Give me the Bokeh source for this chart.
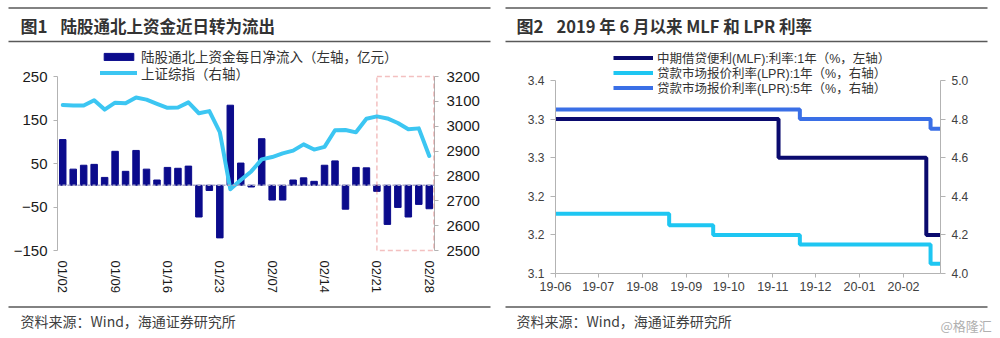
import pandas as pd
from bokeh.plotting import figure
from bokeh.layouts import column, row
from bokeh.models import (Range1d, LinearAxis, FixedTicker, NumeralTickFormatter,
                          Legend, LegendItem, Span, BoxAnnotation,
                          DatetimeTickFormatter, MonthsTicker)
from bokeh.core.properties import value
from bokeh.embed import file_html
from bokeh.resources import INLINE

# ---------------- data: chart 1 ----------------
trade_dates = ["01/02", "01/03", "01/06", "01/07", "01/08", "01/09", "01/10", "01/13",
               "01/14", "01/15", "01/16", "01/17", "01/20", "01/21", "01/22", "01/23",
               "02/03", "02/04", "02/05", "02/06", "02/07", "02/10", "02/11", "02/12",
               "02/13", "02/14", "02/17", "02/18", "02/19", "02/20", "02/21", "02/24",
               "02/25", "02/26", "02/27", "02/28"]
northbound_flow = [105, 37, 46, 48, 18, 78, 32, 80, 37, 12, 41, 39, 44, -73, -12, -121,
                   184, 51, -4, 107, -34, -34, 12, 17, 9, 46, 56, -55, 41, 40, -14, -90,
                   -51, -73, -44, -54]
sse_composite = [3085.20, 3083.79, 3083.41, 3104.80, 3066.89, 3094.88, 3092.29, 3115.57,
                 3106.82, 3090.04, 3074.08, 3075.50, 3095.79, 3052.14, 3060.75, 2976.53,
                 2746.61, 2783.29, 2818.09, 2866.51, 2875.96, 2890.49, 2901.67, 2926.90,
                 2906.07, 2917.01, 2983.62, 2984.97, 2975.40, 3030.15, 3039.67, 3031.23,
                 3013.05, 2987.93, 2991.33, 2880.30]
flow_ticks = [-150, -50, 50, 150, 250]
sse_ticks = [2500, 2600, 2700, 2800, 2900, 3000, 3100, 3200]
highlight_from = "02/21"
chart1_fig = "图1"
chart1_title = "陆股通北上资金近日转为流出"
flow_label = "陆股通北上资金每日净流入（左轴，亿元）"
sse_label = "上证综指（右轴）"

# ---------------- data: chart 2 ----------------
chart2_fig = "图2"
chart2_title = "2019 年 6 月以来 MLF 和 LPR 利率"
mlf_dates = ["2019-06-01", "2019-11-05", "2020-02-17", "2020-02-27"]
mlf_rate = [3.30, 3.25, 3.15, 3.15]
lpr1_dates = ["2019-06-01", "2019-08-20", "2019-09-20", "2019-11-20", "2020-02-20", "2020-02-27"]
lpr1_rate = [4.31, 4.25, 4.20, 4.15, 4.05, 4.05]
lpr5_dates = ["2019-06-01", "2019-11-20", "2020-02-20", "2020-02-27"]
lpr5_rate = [4.85, 4.80, 4.75, 4.75]
mlf_ticks = [3.10, 3.15, 3.20, 3.25, 3.30, 3.35]
mlf_tick_labels = ["3.1", "3.2", "3.2", "3.3", "3.3", "3.4"]
lpr_ticks = [4.0, 4.2, 4.4, 4.6, 4.8, 5.0]
mlf_label = "中期借贷便利(MLF):利率:1年（%，左轴）"
lpr1_label = "贷款市场报价利率(LPR):1年（%，右轴）"
lpr5_label = "贷款市场报价利率(LPR):5年（%，右轴）"

source_text = "资料来源：Wind，海通证券研究所"
watermark = "@格隆汇"

# ---------------- styling ----------------
LAT = "Liberation Sans"
CJK = "Noto Sans CJK SC"
MIX = "Liberation Sans, Noto Sans CJK SC"
RULE = "#595959"
AXIS = "#b3b3b3"
FRAME_TOP = 45      # page y of the charts' frame top
FRAME_BOT = 273     # page y of the charts' frame bottom


def range_for(v_lo, px_lo, v_hi, px_hi):
    """Data range whose v_lo sits at page px_lo and v_hi at page px_hi."""
    scale = (v_hi - v_lo) / (px_lo - px_hi)
    return Range1d(v_lo - (FRAME_BOT - px_lo) * scale, v_hi + (px_hi - FRAME_TOP) * scale)


def canvas(w, h):
    f = figure(width=w, height=h, x_range=Range1d(0, w), y_range=Range1d(h, 0),
               output_backend="svg", toolbar_location=None, min_border=0,
               x_axis_location=None, y_axis_location=None)
    f.grid.visible = False
    f.outline_line_color = None
    return f


def style_axis(ax, size, color, standoff, tick_out=4):
    ax.axis_line_color = AXIS
    ax.major_tick_line_color = AXIS
    ax.major_tick_out = tick_out
    ax.major_tick_in = 0
    ax.minor_tick_line_color = None
    ax.major_label_text_font = LAT
    ax.major_label_text_font_size = size
    ax.major_label_text_color = color
    ax.major_label_standoff = standoff


def one_legend(label, renderer, x, y_center, h, size, gw, gh):
    return Legend(items=[LegendItem(label=label, renderers=[renderer])],
                  location=(x, FRAME_BOT - (y_center + h / 2)), orientation="vertical",
                  padding=0, margin=0, spacing=0, glyph_width=gw, glyph_height=gh,
                  label_standoff=4, label_height=h, label_text_font=MIX,
                  label_text_font_size=size, label_text_color="#333333",
                  background_fill_alpha=0, border_line_color=None)


# ---------------- header ----------------
head = canvas(1000, 45)
head.segment(x0=[8, 8, 505, 505], y0=[7.5, 41, 7.5, 41], x1=[490, 490, 987, 987],
             y1=[7.5, 41, 7.5, 41], line_color=RULE, line_width=1.5)
head.text(x=[20, 516], y=[25, 25], text=[chart1_fig, chart2_fig], text_font=value(CJK),
          text_font_size="17px", text_font_style="bold", text_baseline="middle",
          text_color="#333333")
head.text(x=[60, 556], y=[25, 25], text=[chart1_title, chart2_title], text_font=value(CJK),
          text_font_size="16.5px", text_font_style="bold", text_baseline="middle",
          text_color="#333333")

# ---------------- footer ----------------
foot = canvas(1000, 38)
foot.segment(x0=[8, 505], y0=[6.5, 6.5], x1=[490, 987], y1=[6.5, 6.5],
             line_color=RULE, line_width=1.5)
foot.text(x=[20, 516], y=[20, 20], text=[source_text, source_text], text_font=value(CJK),
          text_font_size="14px", text_baseline="middle", text_color="#404040")
foot.text(x=[940], y=[25], text=[watermark], text_font=value(CJK), text_font_size="13px",
          text_baseline="middle", text_color="#b0b0b0")

# ---------------- chart 1 ----------------
n = len(trade_dates)
idx = list(range(n))
p1 = figure(width=500, height=255, x_range=Range1d(-0.5, n - 0.5),
            y_range=range_for(flow_ticks[0], 250, flow_ticks[-1], 76),
            output_backend="svg", toolbar_location=None,
            min_border_left=57, min_border_right=66, min_border_top=0,
            min_border_bottom=300 - FRAME_BOT)
p1.extra_y_ranges = {"sse": range_for(sse_ticks[0], 250, sse_ticks[-1], 76)}
p1.grid.visible = False
p1.outline_line_color = None

bars = p1.vbar(x=idx, top=northbound_flow, width=0.62, color="#0b0b8c")
p1.add_layout(Span(location=0, dimension="width", line_color="#a9a9c6",
                   line_dash="3 2", line_width=1.5))
sse_line = p1.line(idx, sse_composite, y_range_name="sse", line_color="#3cc6f2",
                   line_width=4, line_join="round", line_cap="round")
p1.add_layout(BoxAnnotation(left=trade_dates.index(highlight_from), right=n - 0.56,
                            bottom=flow_ticks[0], top=flow_ticks[-1],
                            fill_color=None, line_color="#d62f2f", line_dash="5 3",
                            line_width=1.5))

ly = p1.yaxis[0]
ly.ticker = FixedTicker(ticks=flow_ticks)
ly.bounds = (flow_ticks[0], flow_ticks[-1])
style_axis(ly, "15px", "#1a1a1a", 6)

ry1 = LinearAxis(y_range_name="sse", ticker=FixedTicker(ticks=sse_ticks),
                 bounds=(sse_ticks[0], sse_ticks[-1]))
style_axis(ry1, "15px", "#1a1a1a", 8)
p1.add_layout(ry1, "right")

bx = p1.xaxis[0]
lab_idx = idx[::5]
bx.ticker = FixedTicker(ticks=lab_idx)
bx.major_label_overrides = {i: trade_dates[i] for i in lab_idx}
bx.major_label_orientation = "vertical"
style_axis(bx, "13px", "#1a1a1a", -(FRAME_BOT - 260), tick_out=0)
bx.axis_line_color = None
bx.major_tick_line_color = None

p1.add_layout(one_legend(flow_label, bars, 43, 56, 20, "13.5px", 37, 9))
p1.add_layout(one_legend(sse_label, sse_line, 43, 72.5, 20, "13.5px", 37, 9))

# ---------------- chart 2 ----------------
mlf_x = pd.to_datetime(mlf_dates)
lpr1_x = pd.to_datetime(lpr1_dates)
lpr5_x = pd.to_datetime(lpr5_dates)
p2 = figure(width=500, height=255, x_axis_type="datetime",
            x_range=Range1d(mlf_x[0], mlf_x[-1]),
            y_range=range_for(mlf_ticks[0], 273, mlf_ticks[-1], 80),
            output_backend="svg", toolbar_location=None,
            min_border_left=55, min_border_right=60, min_border_top=0,
            min_border_bottom=300 - FRAME_BOT)
p2.extra_y_ranges = {"lpr": range_for(lpr_ticks[0], 273, lpr_ticks[-1], 80)}
p2.grid.visible = False
p2.outline_line_color = None

r_mlf = p2.step(x=mlf_x, y=mlf_rate, mode="after", line_color="#0a0a6e", line_width=4)
r_l1 = p2.step(x=lpr1_x, y=lpr1_rate, mode="after", y_range_name="lpr",
               line_color="#1ec6f2", line_width=4)
r_l5 = p2.step(x=lpr5_x, y=lpr5_rate, mode="after", y_range_name="lpr",
               line_color="#3a6fe6", line_width=4)

ly2 = p2.yaxis[0]
ly2.ticker = FixedTicker(ticks=mlf_ticks)
ly2.major_label_overrides = dict(zip(mlf_ticks, mlf_tick_labels))
ly2.bounds = (mlf_ticks[0], mlf_ticks[-1])
style_axis(ly2, "12px", "#404040", 6, tick_out=5)

ry2 = LinearAxis(y_range_name="lpr", ticker=FixedTicker(ticks=lpr_ticks),
                 formatter=NumeralTickFormatter(format="0.0"),
                 bounds=(lpr_ticks[0], lpr_ticks[-1]))
style_axis(ry2, "12px", "#404040", 6, tick_out=5)
p2.add_layout(ry2, "right")

bx2 = p2.xaxis[0]
bx2.ticker = MonthsTicker(months=list(range(12)))
bx2.formatter = DatetimeTickFormatter(months="%y-%m", days="%y-%m")
style_axis(bx2, "12.5px", "#404040", 4, tick_out=4)

p2.add_layout(one_legend(mlf_label, r_mlf, 58, 57.3, 19, "12.5px", 40, 9))
p2.add_layout(one_legend(lpr1_label, r_l1, 58, 72.5, 19, "12.5px", 40, 9))
p2.add_layout(one_legend(lpr5_label, r_l5, 58, 87.7, 19, "12.5px", 40, 9))

layout = column(head, row(p1, p2), foot)
open("out.html", "w").write(file_html(layout, INLINE))
